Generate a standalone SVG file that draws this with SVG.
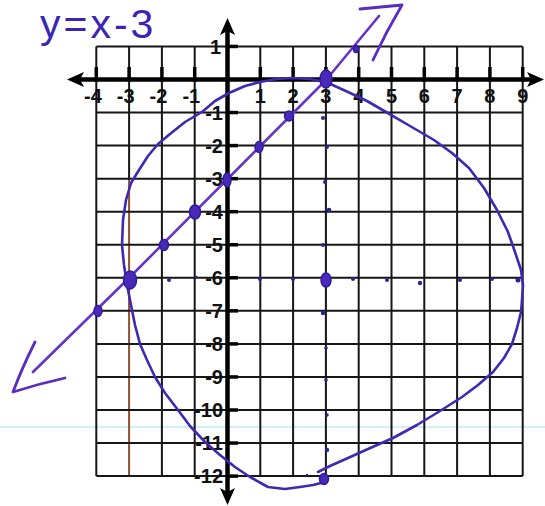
<svg xmlns="http://www.w3.org/2000/svg" width="545" height="506" viewBox="0 0 545 506">
<style>
.grid line{stroke:#161616;stroke-width:2}
.axis{stroke:#000;stroke-width:4.5}
.tick{stroke:#000;stroke-width:3.5}
.lbl{font-family:"Liberation Sans",Arial,sans-serif;font-weight:bold;font-size:20px;fill:#111}
.xl{text-anchor:middle}
.xn{text-anchor:end}
.yl{text-anchor:end}
.pen{fill:none;stroke-linecap:round;stroke-linejoin:round}
.sdot{fill:#2b2590}
.pdot{fill:#4a28b8;stroke:#2e1c9c;stroke-width:1.5}
</style>
<rect width="545" height="506" fill="#fff"/>
<line x1="0" y1="427" x2="545" y2="427" stroke="#c6eaf1" stroke-width="1.5"/>
<g id="title">
<text x="40" y="38" font-family="Liberation Sans,Arial,sans-serif" font-size="41" letter-spacing="3" fill="#3b26b4">y=x-3</text>
</g>
<g id="grid" class="grid">
<line x1="96.3" y1="46.5" x2="96.3" y2="476.1"/>
<line x1="129.1" y1="46.5" x2="129.1" y2="180"/>
<line x1="129.1" y1="180" x2="129.1" y2="476.1" style="stroke:#8e4f2c;stroke-width:2"/>
<line x1="161.9" y1="46.5" x2="161.9" y2="476.1"/>
<line x1="194.7" y1="46.5" x2="194.7" y2="476.1"/>
<line x1="260.3" y1="46.5" x2="260.3" y2="476.1"/>
<line x1="293.1" y1="46.5" x2="293.1" y2="476.1"/>
<line x1="325.9" y1="46.5" x2="325.9" y2="476.1"/>
<line x1="358.7" y1="46.5" x2="358.7" y2="476.1"/>
<line x1="391.5" y1="46.5" x2="391.5" y2="476.1"/>
<line x1="424.3" y1="46.5" x2="424.3" y2="476.1"/>
<line x1="457.1" y1="46.5" x2="457.1" y2="476.1"/>
<line x1="489.9" y1="46.5" x2="489.9" y2="476.1"/>
<line x1="522.7" y1="46.5" x2="522.7" y2="476.1"/>
<line x1="96.3" y1="46.45" x2="522.7" y2="46.45"/>
<line x1="96.3" y1="112.55" x2="522.7" y2="112.55"/>
<line x1="96.3" y1="145.6" x2="522.7" y2="145.6"/>
<line x1="96.3" y1="178.65" x2="522.7" y2="178.65"/>
<line x1="96.3" y1="211.7" x2="522.7" y2="211.7"/>
<line x1="96.3" y1="244.75" x2="522.7" y2="244.75"/>
<line x1="96.3" y1="277.8" x2="522.7" y2="277.8"/>
<line x1="96.3" y1="310.85" x2="522.7" y2="310.85"/>
<line x1="96.3" y1="343.9" x2="522.7" y2="343.9"/>
<line x1="96.3" y1="376.95" x2="522.7" y2="376.95"/>
<line x1="96.3" y1="410" x2="522.7" y2="410"/>
<line x1="96.3" y1="443.05" x2="522.7" y2="443.05"/>
<line x1="96.3" y1="476.1" x2="522.7" y2="476.1"/>
</g>
<g id="axes">
<line class="axis" x1="76" y1="79.5" x2="536" y2="79.5"/>
<polygon points="67,79.5 84,72 80,79.5 84,87" fill="#000"/>
<polygon points="544,79.5 527,72 531,79.5 527,87" fill="#000"/>
<line class="axis" x1="227.5" y1="28" x2="227.5" y2="494"/>
<polygon points="227.5,18 220,35 227.5,31 235,35" fill="#000"/>
<polygon points="227.5,505 220,488 227.5,492 235,488" fill="#000"/>
<g class="tick">
<line x1="96.3" y1="67" x2="96.3" y2="82"/>
<line x1="129.1" y1="67" x2="129.1" y2="82"/>
<line x1="161.9" y1="67" x2="161.9" y2="82"/>
<line x1="194.7" y1="67" x2="194.7" y2="82"/>
<line x1="260.3" y1="67" x2="260.3" y2="82"/>
<line x1="293.1" y1="67" x2="293.1" y2="82"/>
<line x1="325.9" y1="67" x2="325.9" y2="82"/>
<line x1="358.7" y1="67" x2="358.7" y2="82"/>
<line x1="391.5" y1="67" x2="391.5" y2="82"/>
<line x1="424.3" y1="67" x2="424.3" y2="82"/>
<line x1="457.1" y1="67" x2="457.1" y2="82"/>
<line x1="489.9" y1="67" x2="489.9" y2="82"/>
<line x1="522.7" y1="67" x2="522.7" y2="82"/>
<line x1="226" y1="46.45" x2="238" y2="46.45"/>
<line x1="226" y1="112.55" x2="238" y2="112.55"/>
<line x1="226" y1="145.6" x2="238" y2="145.6"/>
<line x1="226" y1="178.65" x2="238" y2="178.65"/>
<line x1="226" y1="211.7" x2="238" y2="211.7"/>
<line x1="226" y1="244.75" x2="238" y2="244.75"/>
<line x1="226" y1="277.8" x2="238" y2="277.8"/>
<line x1="226" y1="310.85" x2="238" y2="310.85"/>
<line x1="226" y1="343.9" x2="238" y2="343.9"/>
<line x1="226" y1="376.95" x2="238" y2="376.95"/>
<line x1="226" y1="410" x2="238" y2="410"/>
<line x1="226" y1="443.05" x2="238" y2="443.05"/>
<line x1="226" y1="476.1" x2="238" y2="476.1"/>
</g>
</g>
<g id="x-labels" class="lbl">
<text class="xn" x="101.8" y="103">-4</text>
<text class="xn" x="134.6" y="103">-3</text>
<text class="xn" x="167.4" y="103">-2</text>
<text class="xn" x="200.2" y="103">-1</text>
<text class="xl" x="260.3" y="103">1</text>
<text class="xl" x="293.1" y="103">2</text>
<text class="xl" x="325.9" y="103">3</text>
<text class="xl" x="358.7" y="103">4</text>
<text class="xl" x="391.5" y="103">5</text>
<text class="xl" x="424.3" y="103">6</text>
<text class="xl" x="457.1" y="103">7</text>
<text class="xl" x="489.9" y="103">8</text>
<text class="xl" x="522.7" y="103">9</text>
</g>
<g id="y-labels" class="lbl">
<text class="yl" x="221" y="53.5">1</text>
<text class="yl" x="223" y="119.5">-1</text>
<text class="yl" x="223" y="152.6">-2</text>
<text class="yl" x="223" y="185.7">-3</text>
<text class="yl" x="223" y="218.7">-4</text>
<text class="yl" x="223" y="251.8">-5</text>
<text class="yl" x="223" y="284.8">-6</text>
<text class="yl" x="223" y="317.9">-7</text>
<text class="yl" x="223" y="350.9">-8</text>
<text class="yl" x="223" y="384">-9</text>
<text class="yl" x="223" y="417">-10</text>
<text class="yl" x="223" y="450">-11</text>
<text class="yl" x="223" y="483.1">-12</text>
</g>
<g id="curve">
<path class="pen" stroke="#3f28b2" stroke-width="2.6" d="M325,482 L313,485 L300,487 L285,489 L268,487 L250,477 L235,467 L220,455 L205,442 L190,426 L178,410 L165,393 L155,377 L147,360 L140,344 L135,325 L131,305 L127,285 L124,265 L122,245 L123,220 L126,200 L131,183 L139,170 L148,156 L158,144 L170,134 L185,122 L202,112 L215,101 L229,93 L245,86 L260,82 L276,79 L292,78 L310,79 L326,82 L348,92 L367,101 L386,112 L410,126 L434,140 L452,153 L469,168 L484,188 L497,210 L508,232 L515,252 L521,270 L523,285 L522,300 L521,312 L517,328 L512,344 L504,358 L493,372 L478,385 L462,397 L440,411 L417,425 L393,438 L368,449 L348,458 L330,466 L318,472"/>
</g>
<g id="line-y-x-3">
<path class="pen" stroke="#6433c8" stroke-width="2.6" d="M33,372 L129,278 L326,80 L379,16"/>
<path class="pen" stroke="#5a2cc2" stroke-width="2.8" d="M35,342 Q22,368 13,392 Q38,384 65,378"/>
<path class="pen" stroke="#5a2cc2" stroke-width="2.8" d="M360,9 L402,5 Q386,32 373,60"/>
</g>
<g id="points">
<ellipse class="pdot" cx="98" cy="311" rx="4" ry="5.5"/>
<ellipse class="pdot" cx="130" cy="280" rx="6.5" ry="9"/>
<ellipse class="pdot" cx="164" cy="245" rx="4.5" ry="5.5"/>
<ellipse class="pdot" cx="195" cy="212" rx="5.5" ry="7"/>
<ellipse class="pdot" cx="227" cy="180" rx="4" ry="7"/>
<ellipse class="pdot" cx="259" cy="147" rx="4" ry="5.5"/>
<ellipse class="pdot" cx="289" cy="116" rx="4.5" ry="5"/>
<ellipse class="pdot" cx="326" cy="79" rx="6" ry="9"/>
<ellipse class="pdot" cx="356" cy="49" rx="2.5" ry="3.5"/>
<ellipse class="pdot" cx="326" cy="280" rx="5" ry="7"/>
<ellipse class="pdot" cx="324" cy="479" rx="4.5" ry="5.5"/>
</g>
<g id="small-dots" class="sdot">
<circle cx="323" cy="118" r="2"/>
<circle cx="327" cy="147" r="2"/>
<circle cx="325" cy="182" r="2"/>
<circle cx="329" cy="210" r="2.3"/>
<circle cx="323" cy="245" r="2"/>
<circle cx="323" cy="313" r="2.2"/>
<circle cx="326" cy="348" r="1.8"/>
<circle cx="326" cy="380" r="1.8"/>
<circle cx="327" cy="415" r="1.8"/>
<circle cx="327" cy="450" r="2.2"/>
<circle cx="307" cy="475" r="1.2"/>
<circle cx="169" cy="280" r="2"/>
<circle cx="196" cy="277" r="1.6"/>
<circle cx="260" cy="279" r="2"/>
<circle cx="293" cy="279" r="2"/>
<circle cx="353" cy="279" r="2"/>
<circle cx="387" cy="280" r="2"/>
<circle cx="420" cy="283" r="2.2"/>
<circle cx="460" cy="280" r="2"/>
<circle cx="492" cy="279" r="2"/>
<circle cx="518" cy="280" r="2.5"/>
</g>
</svg>
